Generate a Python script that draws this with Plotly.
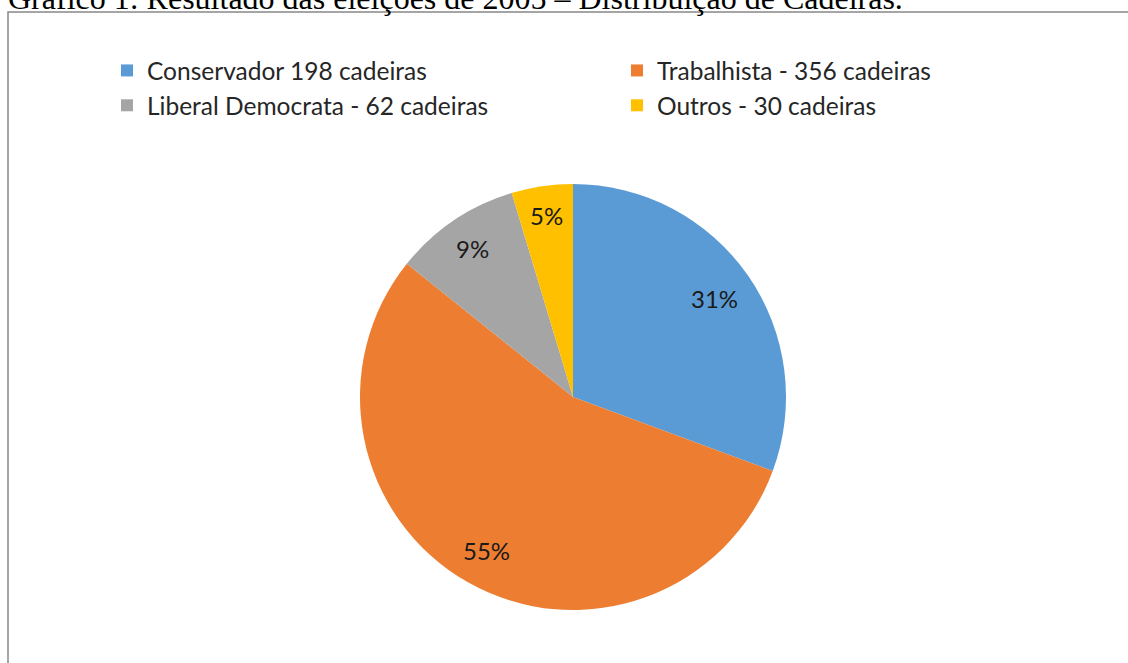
import math
import plotly.graph_objects as go

# ---- data ----
parties = ["Conservador 198 cadeiras", "Trabalhista - 356 cadeiras",
           "Liberal Democrata - 62 cadeiras", "Outros - 30 cadeiras"]
seats = [198, 356, 62, 30]
pct_labels = ["31%", "55%", "9%", "5%"]
colors = ["#5B9BD5", "#ED7D31", "#A5A5A5", "#FFC000"]
title_text = "Gráfico 1: Resultado das eleições de 2005 – Distribuição de Cadeiras."

W, H = 1128, 663
ML, MR, MT, MB = 200, 0, 140, 0
GW, GH = W - ML - MR, H - MT - MB


def px2x(px):
    return (px - ML) / GW


def py2y(py):
    return (H - MB - py) / GH


# pie geometry (pixels)
cx, cy, R = 573, 397, 213
dom_x = [px2x(cx - R), px2x(cx + R)]
dom_y = [py2y(cy + R), py2y(cy - R)]

fig = go.Figure(go.Pie(
    labels=parties, values=seats, sort=False, direction="clockwise", rotation=0,
    marker=dict(colors=colors, line=dict(width=0)),
    textinfo="none", hoverinfo="label+percent",
    domain=dict(x=dom_x, y=dom_y),
))

# percentage labels: best-fit inside each slice at its mid-angle (computed from values)
LFS = 24
total = sum(seats)
cum = 0
anns = []
for v, t in zip(seats, pct_labels):
    mid = (cum + v / 2) / total * 2 * math.pi
    cum += v
    hw = 0.3 * LFS * len(t)
    hh = 12
    dist = R - 16 - (hw * abs(math.sin(mid)) + hh * abs(math.cos(mid)))
    lx = cx + dist * math.sin(mid)
    ly = cy - dist * math.cos(mid)
    anns.append(dict(x=px2x(lx), y=py2y(ly), xref="paper", yref="paper", text=t,
                     showarrow=False, font=dict(family="Lato", size=LFS, color="#1a1a1a"),
                     xanchor="center", yanchor="middle"))

anns.append(dict(x=px2x(6), y=py2y(18), xref="paper", yref="paper", text=title_text,
                 showarrow=False, xanchor="left", yanchor="bottom",
                 font=dict(family="Liberation Serif", size=32, color="#000000")))

fig.update_layout(
    width=W, height=H,
    margin=dict(l=ML, r=MR, t=MT, b=MB),
    paper_bgcolor="white", plot_bgcolor="white",
    annotations=anns,
    legend=dict(orientation="h", x=px2x(107), y=py2y(48), xanchor="left", yanchor="top",
                entrywidth=465, entrywidthmode="pixels", bgcolor="rgba(0,0,0,0)",
                font=dict(family="Lato", size=24.5, color="#262626"),
                itemclick=False, itemdoubleclick=False),
    shapes=[dict(type="rect", xref="paper", yref="paper",
                 x0=px2x(8), x1=px2x(W + 20), y0=py2y(H + 20), y1=py2y(12),
                 line=dict(color="#888888", width=1.5), layer="below")],
)

fig.write_html("out.html", config={"displayModeBar": False},
               post_script="document.body.style.margin='0px';document.body.style.overflow='hidden';")
